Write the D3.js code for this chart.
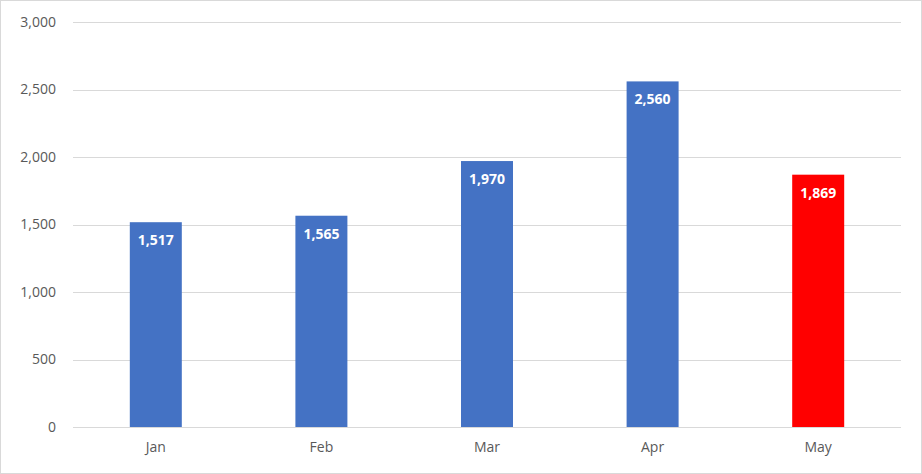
<!DOCTYPE html>
<html>
<head>
<meta charset="utf-8">
<script src="https://cdn.jsdelivr.net/npm/d3@7"></script>
<style>
  body { margin: 0; background: #fff; }
  svg { font-family: "Open Sans", "Liberation Sans", sans-serif; }
</style>
</head>
<body>
<div id="chart"></div>
<script>
const months = ["Jan", "Feb", "Mar", "Apr", "May"];
const sales = [1517, 1565, 1970, 2560, 1869];
const barColors = ["#4472c4", "#4472c4", "#4472c4", "#4472c4", "#ff0000"];
const yTicks = [0, 500, 1000, 1500, 2000, 2500, 3000];

const W = 922, H = 474;
const MARGIN = { TOP: 22, BOTTOM: 47, LEFT: 73, RIGHT: 21 };

const svg = d3.select("#chart").append("svg").attr("width", W).attr("height", H);

// outer chart border
svg.append("rect")
  .attr("x", 0.5).attr("y", 0.5)
  .attr("width", W - 1).attr("height", H - 1)
  .attr("fill", "#fff").attr("stroke", "#d9d9d9");

const x = d3.scaleBand().domain(months).range([MARGIN.LEFT, W - MARGIN.RIGHT]);
const y = d3.scaleLinear().domain([0, 3000]).range([H - MARGIN.BOTTOM, MARGIN.TOP]);
const barW = x.bandwidth() * 0.314;

/** gridlines */
svg.append("g").selectAll("line").data(yTicks).enter().append("line")
  .attr("x1", MARGIN.LEFT).attr("x2", W - MARGIN.RIGHT)
  .attr("y1", d => Math.round(y(d)) + 0.5).attr("y2", d => Math.round(y(d)) + 0.5)
  .attr("stroke", "#d9d9d9");

/** y labels */
svg.append("g").selectAll("text").data(yTicks).enter().append("text")
  .attr("x", 56).attr("y", d => y(d)).attr("dy", "0.35em")
  .attr("text-anchor", "end").attr("font-size", 14).attr("fill", "#595959")
  .text(d => d3.format(",")(d));

/** x labels */
svg.append("g").selectAll("text").data(months).enter().append("text")
  .attr("x", d => x(d) + x.bandwidth() / 2).attr("y", H - MARGIN.BOTTOM + 25)
  .attr("text-anchor", "middle").attr("font-size", 14).attr("fill", "#595959")
  .text(d => d);

/** bars */
svg.append("g").selectAll("rect").data(months).enter().append("rect")
  .attr("x", d => x(d) + x.bandwidth() / 2 - barW / 2)
  .attr("y", (d, i) => y(sales[i]))
  .attr("width", barW)
  .attr("height", (d, i) => y(0) - y(sales[i]))
  .attr("fill", (d, i) => barColors[i]);

/** value labels */
svg.append("g").selectAll("text").data(months).enter().append("text")
  .attr("x", d => x(d) + x.bandwidth() / 2)
  .attr("y", (d, i) => y(sales[i]) + 23)
  .attr("text-anchor", "middle").attr("font-size", 14).attr("font-weight", "bold")
  .attr("fill", "#fff")
  .text((d, i) => d3.format(",")(sales[i]));
</script>
</body>
</html>
